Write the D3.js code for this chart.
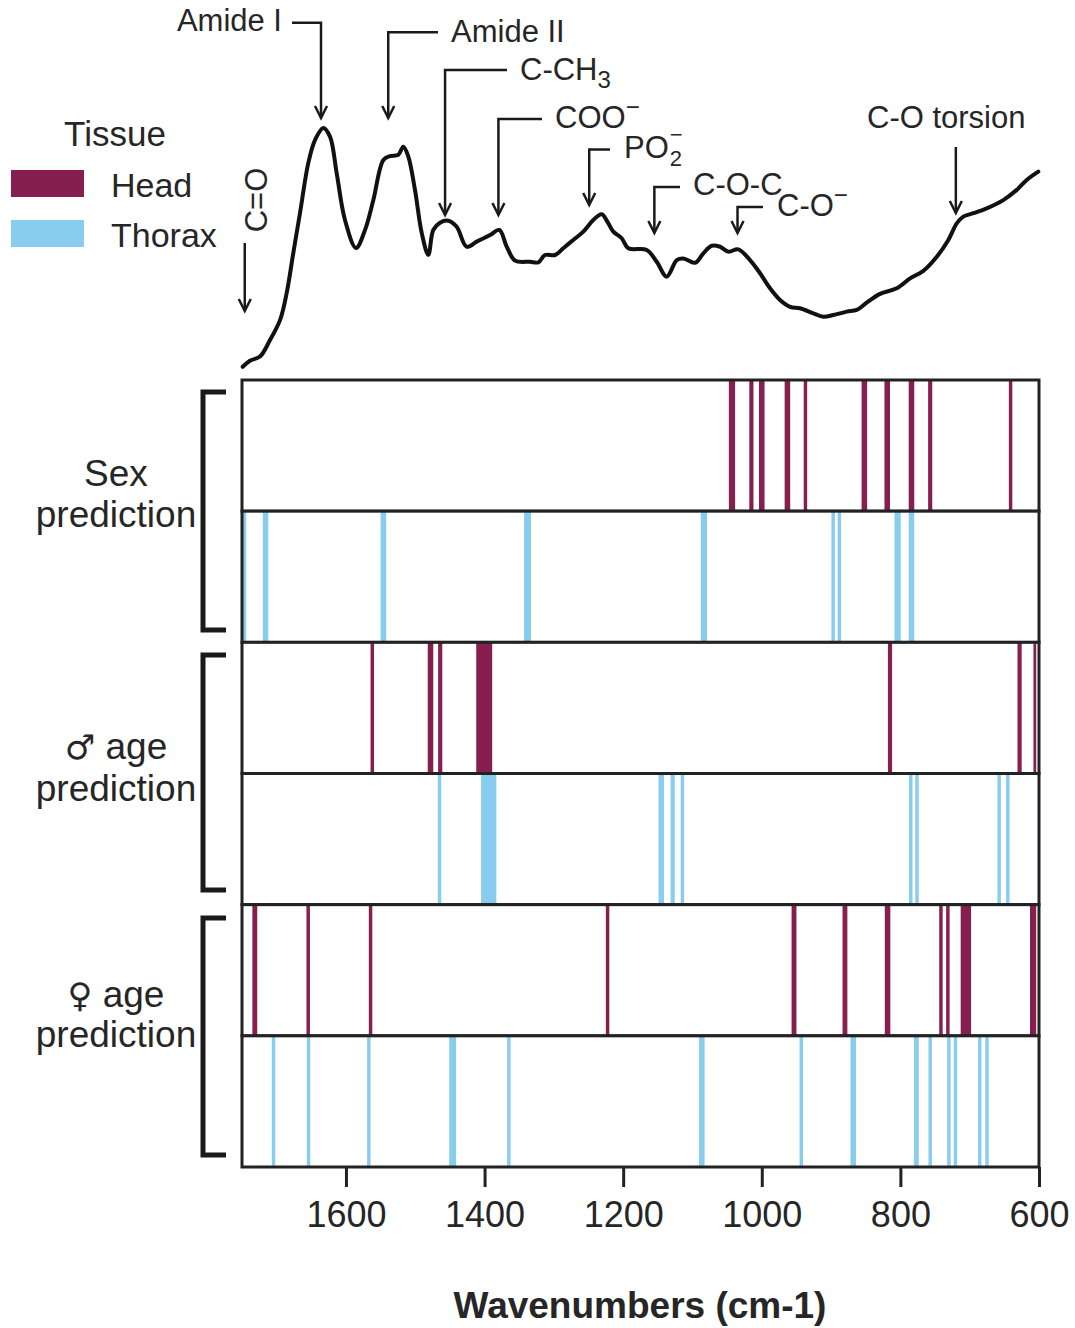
<!DOCTYPE html>
<html>
<head>
<meta charset="utf-8">
<script src="https://cdn.jsdelivr.net/npm/d3@7"></script>
<style>
  body { margin: 0; background: #fff; }
  text { font-family: "Liberation Sans", Arial, Helvetica, sans-serif; fill: #262626; }
</style>
</head>
<body>
<div id="chart"></div>
<script>
// ---- data ----
// mean spectrum (wavenumber cm-1, relative absorbance)
var specWave = [1749, 1738.5, 1724, 1709.6, 1695, 1685.5, 1676, 1666.3, 1654.3, 1644.7, 1632.7, 1623, 1613.4, 1601.4,
  1585.5, 1572.5, 1560.5, 1546, 1536.4, 1524.5, 1517.2, 1510, 1500.4, 1490.7, 1481.2, 1474, 1464.3, 1452.3, 1440.2,
  1425.8, 1411.3, 1392.1, 1378.7, 1368, 1356, 1334.4, 1322.4, 1312.8, 1298.3, 1286.4, 1272, 1257.5, 1243.1, 1231,
  1221.4, 1214.2, 1202.1, 1192.6, 1166, 1151.6, 1137.2, 1122.7, 1113.2, 1096.3, 1084.3, 1072.2, 1060.2, 1048.3,
  1033.8, 1017, 1002.5, 988.1, 973.7, 959.2, 944.8, 925.6, 911.2, 896.8, 877.4, 863, 848.6, 829.4, 805.3, 786.1,
  766.9, 747.5, 730.8, 718.7, 709.2, 694.7, 675.4, 651.5, 632.1, 617.7, 601];
var specAbs = [0.005, 0.030, 0.047, 0.115, 0.198, 0.309, 0.473, 0.638, 0.844, 0.938, 0.988, 0.952, 0.802, 0.609,
  0.494, 0.568, 0.691, 0.856, 0.872, 0.877, 0.911, 0.870, 0.733, 0.556, 0.465, 0.568, 0.598, 0.606, 0.581,
  0.499, 0.520, 0.547, 0.568, 0.499, 0.442, 0.437, 0.435, 0.465, 0.465, 0.493, 0.527, 0.561, 0.609, 0.633,
  0.595, 0.561, 0.534, 0.493, 0.486, 0.437, 0.376, 0.444, 0.451, 0.433, 0.472, 0.503, 0.499, 0.479,
  0.488, 0.444, 0.390, 0.328, 0.280, 0.252, 0.246, 0.225, 0.211, 0.218, 0.232, 0.239, 0.269, 0.305, 0.328, 0.369,
  0.400, 0.458, 0.527, 0.595, 0.623, 0.637, 0.657, 0.691, 0.733, 0.774, 0.808];

// selected wavenumber ranges [from, to] per model and tissue
var sexHead = [[1047.5, 1038.5], [1018, 1012], [1004, 996], [967, 959], [939.5, 934.5], [856, 848], [823, 815],
  [788, 780], [760, 754], [643.5, 638.5]];
var sexThorax = [[1749, 1744], [1720, 1712], [1550, 1542], [1343, 1333], [1088, 1079], [899.5, 894.5],
  [890.5, 885.5], [808.5, 799.5], [788, 780]];
var maleHead = [[1564.5, 1559.5], [1482, 1474], [1467, 1461], [1412, 1389], [818, 812], [631, 625], [608, 604]];
var maleThorax = [[1467.5, 1462.5], [1405, 1383], [1149, 1141], [1131.5, 1125.5], [1117, 1112], [787.5, 782.5],
  [778.5, 773.5], [660, 655], [647.5, 642.5]];
var femaleHead = [[1735, 1728], [1657, 1652], [1567, 1562], [1225, 1220], [957, 950], [883.5, 876.5],
  [822.5, 814.5], [744, 739], [734, 729], [713, 698], [613, 604]];
var femaleThorax = [[1707, 1702], [1656.5, 1651.5], [1569.5, 1564.5], [1451, 1441], [1367.5, 1362.5],
  [1090.5, 1082.5], [945.5, 940.5], [872, 864], [780.5, 773.5], [759.5, 754.5], [732.5, 727.5], [723, 718],
  [688, 683], [677.5, 672.5]];

var tissues = ["Head", "Thorax"];
var groupSymbols = ["", "\u2642", "\u2640"];
var groupLines = [["Sex", "prediction"], [" age", "prediction"], [" age", "prediction"]];
var xTicks = [1600, 1400, 1200, 1000, 800, 600];

// peak annotations: label, wavenumber of the arrow tip
var peakNames = ["Amide I", "Amide II", "C-CH3", "COO-", "PO2-", "C-O-C", "C-O-", "C-O torsion", "C=O"];
var peakWaves = [1636, 1539, 1457, 1380, 1249, 1155, 1035, 720, 1746];

// ---- layout ----
var W = 1075, H = 1328;
var colors = { Head: "#861f4f", Thorax: "#89cdee" };

var svg = d3.select("#chart").append("svg")
  .attr("width", W)
  .attr("height", H);

var x = d3.scaleLinear().domain([1750, 600]).range([242, 1039]);
var y = d3.scaleLinear().domain([0, 1]).range([368, 125]);

var rows = [
  { key: "sexHead", tissue: "Head", bars: sexHead },
  { key: "sexThorax", tissue: "Thorax", bars: sexThorax },
  { key: "maleHead", tissue: "Head", bars: maleHead },
  { key: "maleThorax", tissue: "Thorax", bars: maleThorax },
  { key: "femaleHead", tissue: "Head", bars: femaleHead },
  { key: "femaleThorax", tissue: "Thorax", bars: femaleThorax }
];

var band = d3.scaleBand()
  .domain(rows.map(function(d) { return d.key; }))
  .range([380, 1167])
  .padding(0);

// spectrum line
var spec = specWave.map(function(w, i) { return [w, specAbs[i]]; });
svg.append("path")
  .datum(spec)
  .attr("fill", "none")
  .attr("stroke", "#111")
  .attr("stroke-width", 4)
  .attr("stroke-linejoin", "round")
  .attr("stroke-linecap", "round")
  .attr("d", d3.line()
    .curve(d3.curveCatmullRom.alpha(0.5))
    .x(function(d) { return x(d[0]); })
    .y(function(d) { return y(d[1]); }));

// bar rows
var rowG = svg.selectAll(".row")
  .data(rows)
  .enter()
  .append("g")
  .attr("class", "row");

rowG.append("rect")
  .attr("x", x(1750))
  .attr("y", function(d) { return band(d.key); })
  .attr("width", x(600) - x(1750))
  .attr("height", band.bandwidth())
  .attr("fill", "#fff");

rowG.each(function(r) {
  d3.select(this).selectAll(".bar")
    .data(r.bars)
    .enter()
    .append("rect")
    .attr("class", "bar")
    .attr("x", function(d) { return x(d[0]); })
    .attr("y", band(r.key))
    .attr("width", function(d) { return x(d[1]) - x(d[0]); })
    .attr("height", band.bandwidth())
    .attr("fill", colors[r.tissue]);
});

rowG.append("rect")
  .attr("x", x(1750))
  .attr("y", function(d) { return band(d.key); })
  .attr("width", x(600) - x(1750))
  .attr("height", band.bandwidth())
  .attr("fill", "none")
  .attr("stroke", "#222")
  .attr("stroke-width", 3);

// x axis
var xAxis = svg.append("g")
  .attr("transform", "translate(0,1167)")
  .call(d3.axisBottom(x).tickValues(xTicks).tickSize(20).tickPadding(14).tickFormat(d3.format("d")));
xAxis.select(".domain").remove();
xAxis.selectAll(".tick line").attr("stroke", "#222").attr("stroke-width", 3);
xAxis.selectAll(".tick text")
  .style("font-family", "'Liberation Sans', Arial, sans-serif")
  .style("font-size", "36px")
  .attr("fill", "#262626");

svg.append("text")
  .attr("x", 640)
  .attr("y", 1318)
  .attr("text-anchor", "middle")
  .style("font-size", "37px")
  .style("font-weight", "bold")
  .text("Wavenumbers (cm-1)");

// group brackets + labels
var bracketY = [[392, 630], [655, 890], [918, 1155]];
var labelBase = [[486, 527], [759, 801], [1007, 1047]];
groupLines.forEach(function(lines, i) {
  var b = bracketY[i];
  svg.append("path")
    .attr("d", "M226," + b[0] + "H203V" + b[1] + "H226")
    .attr("fill", "none")
    .attr("stroke", "#1a1a1a")
    .attr("stroke-width", 5);
  lines.forEach(function(t, j) {
    var txt = svg.append("text")
      .attr("x", 116)
      .attr("y", labelBase[i][j])
      .attr("text-anchor", "middle")
      .style("font-size", "37px");
    if (j === 0 && groupSymbols[i]) {
      txt.append("tspan")
        .style("font-family", "'DejaVu Sans', sans-serif")
        .style("font-size", "34px")
        .text(groupSymbols[i]);
    }
    txt.append("tspan").text(t);
  });
});

// legend
svg.append("text")
  .attr("x", 115).attr("y", 146)
  .attr("text-anchor", "middle")
  .style("font-size", "35px")
  .text("Tissue");
tissues.forEach(function(t, i) {
  svg.append("rect")
    .attr("x", 11).attr("y", 170 + i * 50)
    .attr("width", 73).attr("height", 27)
    .attr("fill", colors[t]);
  svg.append("text")
    .attr("x", 111).attr("y", 197 + i * 50)
    .style("font-size", "34px")
    .text(t);
});

// peak annotations
var ann = svg.append("g")
  .attr("fill", "none")
  .attr("stroke", "#1a1a1a")
  .attr("stroke-width", 2.5);

function arrow(wave, tipY, topY, hx) {
  var ax = x(wave);
  var d = (hx != null ? "M" + hx + "," + topY + "H" + ax : "M" + ax + "," + topY) + "V" + tipY;
  ann.append("path").attr("d", d);
  ann.append("path").attr("d", "M" + (ax - 6) + "," + (tipY - 12) + "L" + ax + "," + tipY + "L" + (ax + 6) + "," + (tipY - 12));
}

arrow(peakWaves[0], 118, 22.7, 292);
arrow(peakWaves[1], 118, 32.3, 438);
arrow(peakWaves[2], 215, 70, 507);
arrow(peakWaves[3], 215, 119, 542);
arrow(peakWaves[4], 205, 149.5, 610);
arrow(peakWaves[5], 233, 187, 680);
arrow(peakWaves[6], 233, 207, 763);
arrow(peakWaves[7], 213, 147, null);
arrow(peakWaves[8], 311, 243, null);

function label(px, py, anchor, size) {
  return svg.append("text")
    .attr("x", px).attr("y", py)
    .attr("text-anchor", anchor || "start")
    .style("font-size", (size || 31) + "px");
}

label(282, 31, "end").text(peakNames[0]);
label(451, 42).text(peakNames[1]);
var cch = label(520, 80);
cch.append("tspan").text("C-CH");
cch.append("tspan").attr("dy", 8).style("font-size", "24px").text("3");
var coo = label(555, 128);
coo.append("tspan").text("COO");
coo.append("tspan").attr("dy", -13).style("font-size", "24px").text("\u2212");
var po = label(624, 158);
po.text("PO");
var poEnd = 624 + po.node().getComputedTextLength();
label(poEnd + 1, 166, "start", 22).text("2");
label(poEnd + 1, 142, "start", 22).text("\u2212");
label(693, 195).text(peakNames[5]);
var co = label(777, 216);
co.append("tspan").text("C-O");
co.append("tspan").attr("dy", -13).style("font-size", "24px").text("\u2212");
label(867, 128).text(peakNames[7]);
svg.append("text")
  .attr("transform", "translate(267,200) rotate(-90)")
  .attr("text-anchor", "middle")
  .style("font-size", "31px")
  .text(peakNames[8]);
</script>
</body>
</html>
